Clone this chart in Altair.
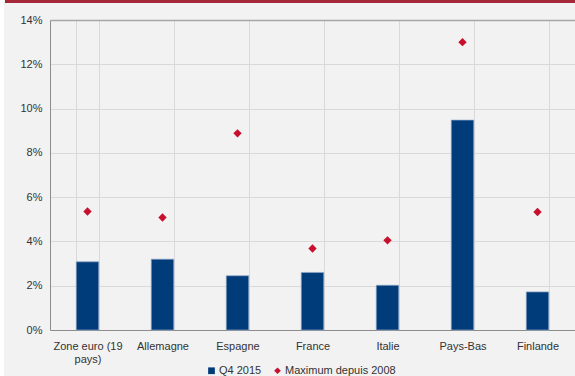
import altair as alt
import pandas as pd

categories = ["Zone euro (19 pays)", "Allemagne", "Espagne", "France", "Italie", "Pays-Bas", "Finlande"]
q4_2015 = [3.08, 3.2, 2.45, 2.6, 2.02, 9.48, 1.72]
max_2008 = [5.35, 5.08, 8.88, 3.68, 4.05, 13.0, 5.33]
series = ["Q4 2015", "Maximum depuis 2008"]
y_ticks = [0, 2, 4, 6, 8, 10, 12, 14]

df_bar = pd.DataFrame({"pays": categories, "valeur": q4_2015, "serie": series[0]})
df_pt = pd.DataFrame({"pays": categories, "valeur": max_2008, "serie": series[1]})

NAVY = "#003b7a"
RED = "#c8102e"
FONT = "Liberation Sans"

x_enc = alt.X(
    "pays:N",
    sort=categories,
    title=None,
    scale=alt.Scale(paddingInner=0.7, paddingOuter=0.35),
    axis=alt.Axis(
        labelAngle=0,
        ticks=False,
        tickBand="extent",
        grid=True,
        gridColor="#d9d9d9",
        domainColor="#8c8c8c",
        labelPadding=10,
        labelFontSize=11,
        labelColor="#333333",
        labelFont=FONT,
        labelLimit=200,
        labelExpr="datum.label == 'Zone euro (19 pays)' ? ['Zone euro (19', 'pays)'] : datum.label",
    ),
)
y_enc = alt.Y(
    "valeur:Q",
    title=None,
    scale=alt.Scale(domain=[0, 14], nice=False),
    axis=alt.Axis(
        values=y_ticks,
        ticks=False,
        grid=True,
        gridColor=alt.condition("datum.value == 14", alt.value("#a6a6a6"), alt.value("#d9d9d9")),
        gridWidth=alt.condition("datum.value == 14", alt.value(1.5), alt.value(1)),
        domainColor="#8c8c8c",
        labelPadding=8,
        labelFontSize=11,
        labelColor="#333333",
        labelFont=FONT,
        labelExpr="datum.value + '%'",
    ),
)

legend = alt.Legend(
    title=None,
    orient="none",
    legendX=156,
    legendY=345,
    direction="horizontal",
    labelFont=FONT,
    labelFontSize=11,
    labelColor="#333333",
    symbolSize=45,
    symbolStrokeWidth=0,
    columnPadding=10,
    labelOffset=2,
)
color = alt.Color("serie:N", scale=alt.Scale(domain=series, range=[NAVY, RED]), legend=legend)
shape = alt.Shape("serie:N", scale=alt.Scale(domain=series, range=["square", "diamond"]), legend=legend)

bars = alt.Chart(df_bar).mark_bar(stroke="#8fa8c8", strokeWidth=0.7).encode(
    x=x_enc, y=y_enc, color=color, shape=shape
)
points = alt.Chart(df_pt).mark_point(filled=True, size=70, opacity=1).encode(
    x=x_enc, y=y_enc, color=color, shape=shape
)

red_band = alt.Chart(df_bar).mark_rect(color="#a4283a", clip=False).encode(
    x=alt.value(-45), x2=alt.value(525), y=alt.value(-20), y2=alt.value(-17)
)
white_strip = alt.Chart(df_bar).mark_rect(color="#ffffff", clip=False).encode(
    x=alt.value(-50), x2=alt.value(-46), y=alt.value(-20), y2=alt.value(356)
)

chart = (
    alt.layer(white_strip, red_band, bars, points)
    .properties(
        width=525,
        height=310,
        padding={"left": 50, "top": 20, "right": 0, "bottom": 46},
        autosize=alt.AutoSizeParams(type="none"),
        background="#f2f2f2",
    )
    .configure_view(stroke=None)
)

chart.save("out.html", embed_options={"renderer": "svg", "actions": False})
